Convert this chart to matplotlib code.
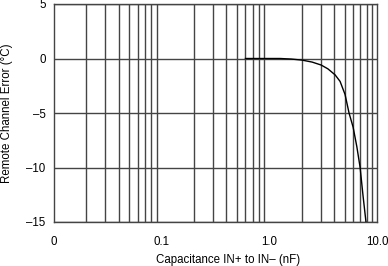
import matplotlib
matplotlib.use('Agg')
import matplotlib.pyplot as plt
from matplotlib import ticker

# capacitance (nF) vs remote channel error (degC)
cap_nf = [0.6, 0.8, 1.0, 1.26, 1.6, 2.02, 2.5, 3.03, 3.5, 4.08, 4.54, 5.05, 5.5, 6.0, 6.5, 6.97, 7.4, 7.9]
error_c = [0.0, 0.0, 0.0, 0.0, -0.05, -0.15, -0.33, -0.6, -0.95, -1.5, -2.1, -3.3, -5.0, -6.3, -8.1, -10.0, -12.5, -15.0]

x_ticks = [0.01, 0.1, 1.0, 10.0]
x_tick_labels = ['0', '0.1', '1.0', '10.0']
y_ticks = [-15, -10, -5, 0, 5]
y_tick_labels = ['\u201315', '\u201310', '\u20135', '0', '5']

plt.rcParams['font.family'] = ['Liberation Sans', 'DejaVu Sans']

fig = plt.figure(figsize=(3.88, 2.66), dpi=100)
ax = fig.add_axes([54 / 388, 44 / 266, 323 / 388, 218 / 266])

grid_color = '#444444'
ax.set_xscale('log')
ax.set_xlim(0.01, 10)
ax.set_ylim(-15, 5)

# vertical grid at every minor log position
for dec in [0.01, 0.1, 1.0]:
    for k in range(2, 10):
        ax.axvline(dec * k, color=grid_color, lw=1.0, zorder=1)
for yv in y_ticks:
    ax.axhline(yv, color=grid_color, lw=1.0, zorder=1)

ax.plot(cap_nf, error_c, color='black', lw=1.0, zorder=3)

ax.set_xticks(x_ticks)
ax.set_xticklabels(x_tick_labels)
ax.xaxis.set_minor_locator(ticker.NullLocator())
ax.set_yticks(y_ticks)
ax.set_yticklabels(y_tick_labels)
ax.tick_params(length=0, labelsize=8.3, pad=10)
ax.tick_params(axis='y', pad=6)

for s in ax.spines.values():
    s.set_color(grid_color)
    s.set_linewidth(1.0)

ax.set_xlabel('Capacitance IN+ to IN\u2013 (nF)', fontsize=8.3)
ax.xaxis.set_label_coords(0.54, -0.145)
ax.set_ylabel('Remote Channel Error (\u00b0C)', fontsize=8.3)
ax.yaxis.set_label_coords(-0.127, 0.5)

fig.savefig('out.png', dpi=100)
